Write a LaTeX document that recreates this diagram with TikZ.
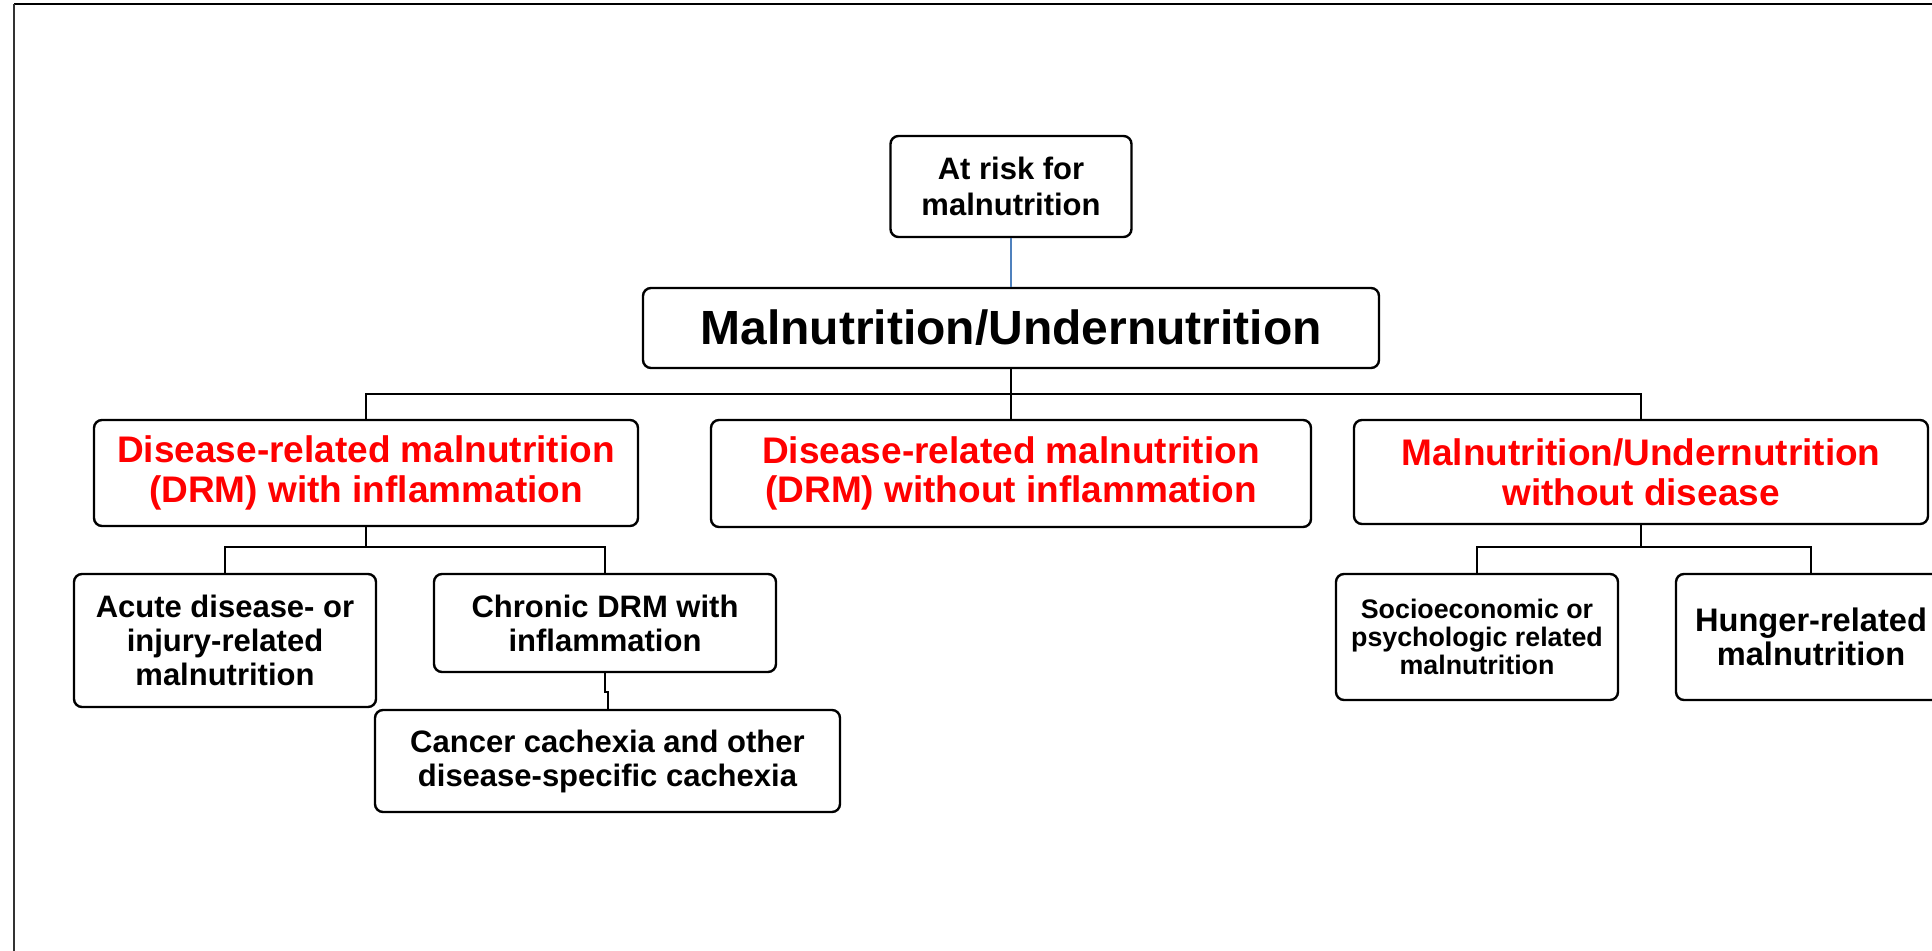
\documentclass[tikz,border=0pt]{standalone}
\usepackage{fontspec}
\setmainfont{Liberation Sans}
\definecolor{offblue}{RGB}{79,129,189}
\definecolor{pured}{RGB}{255,0,0}
\tikzset{
  box/.style={draw=black, line width=1.2pt, rounded corners=4pt, align=center, inner sep=0pt, fill=white},
  fRisk/.style={font=\bfseries\fontsize{15.5}{18}\selectfont},
  fMain/.style={font=\bfseries\fontsize{24}{28}\selectfont},
  fRed/.style={font=\bfseries\fontsize{18.5}{19.8}\selectfont, text=pured},
  fLow/.style={font=\bfseries\fontsize{15.5}{17}\selectfont},
  fHung/.style={font=\bfseries\fontsize{16.3}{17}\selectfont},
  fSmall/.style={font=\bfseries\fontsize{13.4}{14.2}\selectfont},
  conn/.style={line width=1pt, draw=black},
  blueconn/.style={line width=0.7pt, draw=offblue},
  frame/.style={line width=1pt}
}
\begin{document}
\begin{tikzpicture}[x=0.5pt, y=-0.5pt]
\useasboundingbox (0,0) rectangle (1932,951);
\clip (0,0) rectangle (1932,951);
% frame
\coordinate (ftl) at (14,4);
\coordinate (ftr) at (1932,4);
\coordinate (fbl) at (14,951);
\draw[frame, draw=black] (ftl) -- (ftr);
\draw[frame, draw=black!80] (ftl) -- (fbl);

% nodes
\node[box, fRisk, minimum width=120.5pt, minimum height=50.5pt] (risk) at (1011,186.5) {At risk for\\malnutrition};
\node[box, fMain, minimum width=368pt, minimum height=40pt] (main) at (1011,328) {Malnutrition/Undernutrition};
\node[box, fRed, minimum width=272pt, minimum height=53pt] (b1) at (366,473) {Disease-related malnutrition\\(DRM) with inflammation};
\node[box, fRed, minimum width=300pt, minimum height=53.5pt] (b2) at (1011,473.5) {Disease-related malnutrition\\(DRM) without inflammation};
\node[box, fRed, minimum width=287pt, minimum height=52pt] (b3) at (1641,472) {Malnutrition/Undernutrition\\without disease};
\node[box, fLow, minimum width=151pt, minimum height=66.5pt] (acute) at (225,640.5) {Acute disease- or\\injury-related\\malnutrition};
\node[box, fLow, minimum width=171pt, minimum height=49pt] (chronic) at (605,623) {Chronic DRM with\\inflammation};
\node[box, fLow, minimum width=232.5pt, minimum height=51pt] (cancer) at (607.5,761) {Cancer cachexia and other\\disease-specific cachexia};
\node[box, fSmall, minimum width=141pt, minimum height=63pt] (socio) at (1477,637) {Socioeconomic or\\psychologic related\\malnutrition};
\node[box, fHung, minimum width=135pt, minimum height=63pt] (hunger) at (1811,637) {Hunger-related\\malnutrition};

% connectors
\draw[blueconn] (risk.south) -- (main.north);
\coordinate (bar1) at (1011,394);
\draw[conn] (main.south) -- (b2.north);
\draw[conn] (b1.north) -- (b1.north |- bar1) -- (b3.north |- bar1) -- (b3.north);

\coordinate (bar2) at (366,547);
\draw[conn] (b1.south) -- (b1.south |- bar2);
\draw[conn] (acute.north) -- (acute.north |- bar2) -- (chronic.north |- bar2) -- (chronic.north);

\coordinate (jog) at (606,692);
\draw[conn] (chronic.south) -- (chronic.south |- jog) -- (cancer.north |- jog) -- (cancer.north);

\coordinate (bar3) at (1641,547);
\draw[conn] (b3.south) -- (b3.south |- bar3);
\draw[conn] (socio.north) -- (socio.north |- bar3) -- (hunger.north |- bar3) -- (hunger.north);
\end{tikzpicture}
\end{document}
